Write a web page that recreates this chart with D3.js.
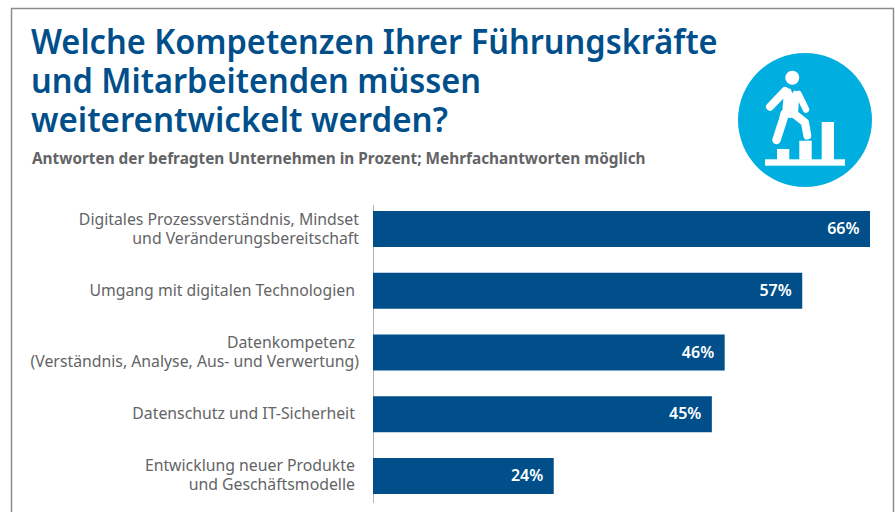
<!DOCTYPE html>
<html lang="de">
<head>
<meta charset="utf-8">
<script src="https://cdn.jsdelivr.net/npm/d3@7"></script>
<style>
  html, body { margin: 0; padding: 0; background: #fff; }
  svg { display: block; font-family: "Noto Sans", sans-serif; }
</style>
</head>
<body>
<div id="chart"></div>
<script>
const TITLE_LINES = [
  "Welche Kompetenzen Ihrer Führungskräfte",
  "und Mitarbeitenden müssen",
  "weiterentwickelt werden?"
]
const SUBTITLE = "Antworten der befragten Unternehmen in Prozent; Mehrfachantworten möglich"

// nbsp at the end of some lines: the original labels sit a little short of the right edge
const categories = [
  ["Digitales Prozessverständnis, Mindset", "und Veränderungsbereitschaft"],
  ["Umgang mit digitalen Technologien\u00a0"],
  ["Datenkompetenz\u00a0", "(Verständnis, Analyse, Aus- und Verwertung)"],
  ["Datenschutz und IT-Sicherheit\u00a0"],
  ["Entwicklung neuer Produkte\u00a0", "und Geschäftsmodelle\u00a0"]
]
// the third bar is drawn longer in the picture than its 46% label says
const barValues = [66, 57, 46.7, 45, 24]
const valueLabels = ["66%", "57%", "46%", "45%", "24%"]

const BLUE = "#004f8b"
const CYAN = "#00aee0"
const GREY = "#636466"

const width = 895
const height = 512

const svg = d3.select("#chart")
  .append("svg")
  .attr("width", width)
  .attr("height", height)

// frame, open at the bottom
svg.append("path")
  .attr("d", "M11.5,512V8.5H893.5V512")
  .attr("fill", "none")
  .attr("stroke", "#8c8c8c")
  .attr("stroke-width", 1.5)

// noto runs wider than the original face, so squeeze the title horizontally
svg.append("g")
  .selectAll("text")
  .data(TITLE_LINES)
  .join("text")
  .attr("transform", (d, i) => `translate(31,${53.5 + i * 39}) scale(${i === 2 ? 0.973 : 0.957},1)`)
  .attr("fill", BLUE)
  .attr("font-size", 34)
  .attr("font-weight", 600)
  .text(d => d)

svg.append("text")
  .attr("x", 32)
  .attr("y", 164)
  .attr("fill", GREY)
  .attr("font-size", 15.35)
  .attr("font-weight", 700)
  .text(SUBTITLE)

const x = d3.scaleLinear().domain([0, 66]).range([373, 870])
const y = d3.scaleBand()
  .domain(d3.range(categories.length))
  .range([211, 494])
  .paddingInner(0.417)

svg.append("line")
  .attr("x1", x(0) + 0.5)
  .attr("x2", x(0) + 0.5)
  .attr("y1", 205)
  .attr("y2", 503)
  .attr("stroke", "#b5b5b5")

svg.append("g")
  .selectAll("rect")
  .data(barValues)
  .join("rect")
  .attr("x", x(0))
  .attr("y", (d, i) => y(i))
  .attr("width", d => x(d) - x(0))
  .attr("height", y.bandwidth())
  .attr("fill", BLUE)

svg.append("g")
  .selectAll("text")
  .data(barValues)
  .join("text")
  .attr("x", d => x(d) - 10.5)
  .attr("y", (d, i) => y(i) + y.bandwidth() / 2 + 5)
  .attr("text-anchor", "end")
  .attr("fill", "#fff")
  .attr("font-size", 16)
  .attr("font-weight", 600)
  .text((d, i) => valueLabels[i])

const labels = svg.append("g")
  .attr("text-anchor", "end")
  .attr("fill", GREY)
  .attr("font-size", 15.8)
  .selectAll("text")
  .data(categories)
  .join("text")
  .attr("y", (d, i) => y(i) + y.bandwidth() / 2 + 5)

labels.selectAll("tspan")
  .data(d => d.map(line => ({ line, count: d.length })))
  .join("tspan")
  .attr("x", 359)
  .attr("dy", (d, i) => i === 0 ? -(d.count - 1) * 9.5 : 19)
  .text(d => d.line)

// icon: man climbing the steps
const icon = svg.append("g").attr("transform", "translate(805,120)")

icon.append("circle").attr("r", 67).attr("fill", CYAN)

const white = icon.append("g").attr("fill", "#fff")
white.append("circle").attr("cx", -12.7).attr("cy", -42.3).attr("r", 7)
white.append("rect").attr("x", -40).attr("y", 39.3).attr("width", 80).attr("height", 6.4)
white.append("rect").attr("x", -28).attr("y", 29).attr("width", 12.3).attr("height", 11)
white.append("rect").attr("x", -5.7).attr("y", 20.7).attr("width", 12.4).attr("height", 19)
white.append("rect").attr("x", 16.7).attr("y", 2).attr("width", 12.3).attr("height", 38)

const limb = (d, w) => icon.append("path")
  .attr("d", d)
  .attr("fill", "none")
  .attr("stroke", "#fff")
  .attr("stroke-width", w)
  .attr("stroke-linecap", "round")
  .attr("stroke-linejoin", "round")

white.append("path")
  .attr("d", "M-19,-32.3L-14.3,-31L-12.7,-26.7L-10.7,-29.7L-5.7,-26.7L-7,-5L-15,-1.7L-23,-5L-21.7,-21.7Z")
limb("M-20,-29L-35,-13.3", 8)
limb("M-6.5,-26L1,-10.5", 6.5)
limb("M-20.5,-6L-22,0L-28.5,20", 8.5)
limb("M-12,-7L0,2.5L2.3,15.5", 8)
</script>
</body>
</html>
